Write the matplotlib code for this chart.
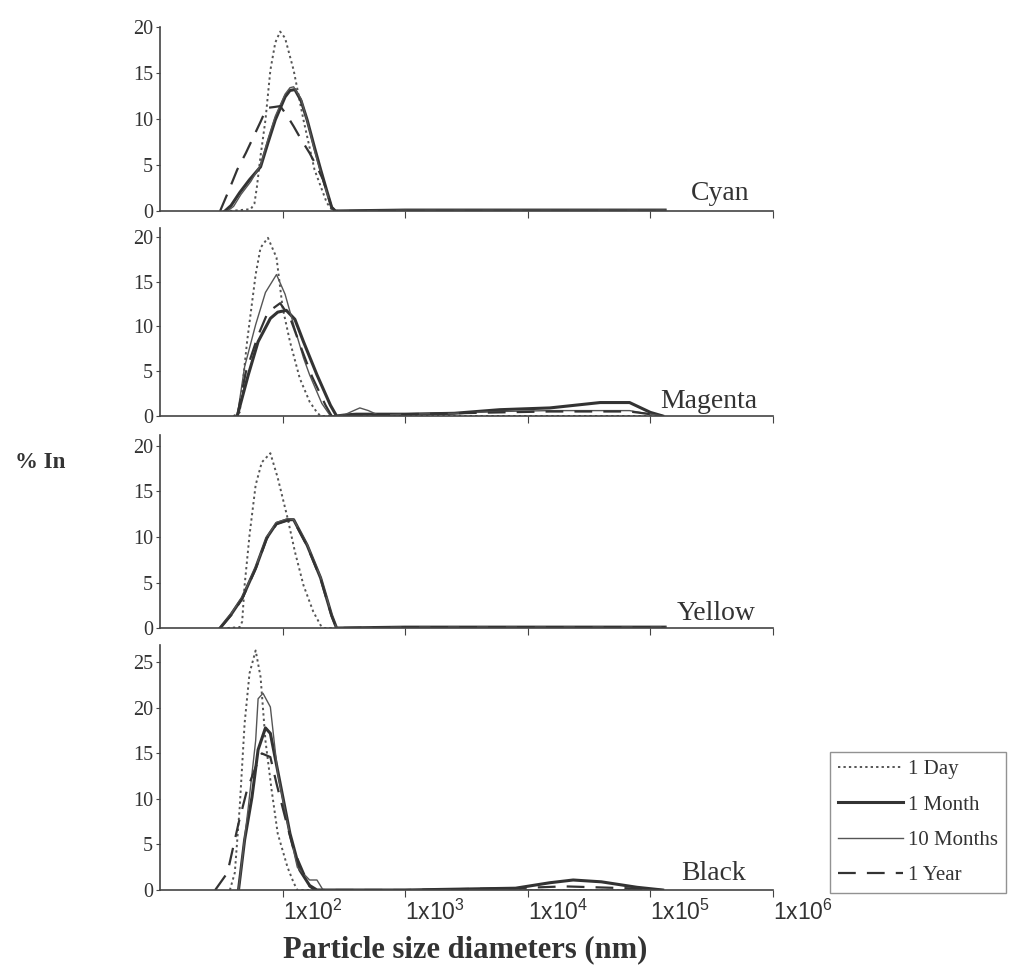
import matplotlib
matplotlib.use('Agg')
import matplotlib.pyplot as plt
import numpy as np
from matplotlib.ticker import FixedLocator, FuncFormatter, NullLocator

plt.rcParams['font.family'] = 'Liberation Serif'
plt.rcParams['mathtext.fontset'] = 'custom'
plt.rcParams['mathtext.rm'] = 'Liberation Sans'
plt.rcParams['mathtext.default'] = 'regular'

# particle size given as log10(d / nm), intensity in %
# --- Cyan
cyan_day_logd = [1.57, 1.74, 1.77, 1.79, 1.82, 1.86, 1.90, 1.94, 1.98, 2.02, 2.09, 2.17, 2.26, 2.36, 2.41, 3.0, 4.0, 5.12]
cyan_day = [0, 0.2, 0.8, 2.6, 6.0, 9.9, 15.3, 18.3, 19.5, 18.8, 15.3, 9.9, 4.5, 0.9, 0, 0, 0, 0]
cyan_month_logd = [1.53, 1.58, 1.65, 1.73, 1.82, 1.88, 1.94, 2.02, 2.06, 2.10, 2.15, 2.20, 2.26, 2.31, 2.36, 2.40, 2.43, 3.0, 4.0, 5.12]
cyan_month = [0, 0.6, 2.0, 3.4, 4.8, 7.4, 9.9, 12.4, 13.1, 13.2, 12.0, 9.9, 6.9, 4.5, 2.2, 0.4, 0, 0.1, 0.1, 0.1]
cyan_10month_logd = [1.55, 1.60, 1.66, 1.74, 1.82, 1.88, 1.94, 2.02, 2.06, 2.09, 2.15, 2.20, 2.26, 2.31, 2.36, 2.40, 2.43, 3.0, 4.0, 5.12]
cyan_10month = [0, 0.5, 1.8, 3.2, 5.0, 7.8, 10.3, 12.7, 13.4, 13.5, 12.2, 9.8, 6.6, 4.2, 2.0, 0.3, 0, 0.1, 0.1, 0.1]
cyan_year_logd = [1.49, 1.56, 1.63, 1.70, 1.76, 1.82, 1.87, 1.93, 1.98, 2.03, 2.09, 2.15, 2.22, 2.28, 2.33, 2.40, 2.43, 3.0, 4.0, 5.12]
cyan_year = [0, 2.2, 4.5, 6.3, 8.0, 9.7, 11.2, 11.3, 11.4, 10.5, 9.2, 7.8, 6.3, 4.8, 3.4, 0.4, 0, 0, 0, 0]

# --- Magenta
mag_day_logd = [1.60, 1.65, 1.71, 1.78, 1.82, 1.88, 1.95, 2.00, 2.06, 2.14, 2.22, 2.28, 2.31, 3.0, 4.0, 5.1]
mag_day = [0, 0.4, 8.3, 15.8, 18.8, 19.9, 17.7, 12.1, 8.3, 4.2, 1.6, 0.4, 0, 0, 0, 0]
mag_month_logd = [1.63, 1.72, 1.80, 1.90, 1.96, 2.03, 2.10, 2.17, 2.28, 2.39, 2.44, 2.50, 2.60, 3.0, 3.4, 3.77, 4.18, 4.59, 4.83, 5.0, 5.1]
mag_month = [0, 4.6, 8.3, 10.9, 11.6, 11.8, 10.8, 8.3, 4.6, 1.2, 0, 0.1, 0.2, 0.2, 0.3, 0.7, 0.9, 1.5, 1.5, 0.4, 0]
mag_10month_logd = [1.63, 1.69, 1.78, 1.86, 1.95, 2.02, 2.09, 2.17, 2.22, 2.32, 2.39, 2.50, 2.58, 2.63, 2.70, 2.78, 3.0, 3.4, 3.77, 4.18, 4.6, 4.83, 5.0, 5.1]
mag_10month = [0, 5.5, 10.2, 13.8, 15.8, 13.6, 10.2, 6.5, 4.6, 1.4, 0, 0.1, 0.6, 0.9, 0.6, 0.1, 0.2, 0.3, 0.5, 0.6, 0.6, 0.6, 0.2, 0]
mag_year_logd = [1.63, 1.70, 1.80, 1.88, 1.98, 2.06, 2.14, 2.24, 2.35, 2.40, 3.0, 3.4, 3.77, 4.18, 4.6, 4.83, 5.0, 5.1]
mag_year = [0, 4.9, 9.0, 11.6, 12.6, 11.0, 8.0, 4.4, 1.2, 0, 0.2, 0.3, 0.4, 0.5, 0.5, 0.5, 0.2, 0]

# --- Yellow
yel_day_logd = [1.55, 1.65, 1.67, 1.69, 1.73, 1.78, 1.83, 1.90, 1.96, 2.04, 2.10, 2.17, 2.25, 2.31, 2.34, 3.0, 4.0, 5.12]
yel_day = [0, 0.1, 0.7, 4.7, 10.2, 15.7, 18.2, 19.2, 16.5, 12.1, 8.4, 4.7, 1.8, 0.3, 0, 0, 0, 0]
yel_month_logd = [1.49, 1.58, 1.67, 1.78, 1.87, 1.95, 2.04, 2.09, 2.20, 2.31, 2.40, 2.44, 3.0, 4.0, 5.12]
yel_month = [0, 1.5, 3.3, 6.6, 9.9, 11.5, 11.9, 11.9, 9.1, 5.5, 1.4, 0, 0.1, 0.1, 0.1]
yel_10month_logd = [1.49, 1.58, 1.67, 1.78, 1.87, 1.95, 2.04, 2.09, 2.20, 2.31, 2.40, 2.44, 3.0, 4.0, 5.12]
yel_10month = [0, 1.6, 3.4, 6.7, 10.0, 11.6, 12.0, 11.9, 9.2, 5.6, 1.5, 0, 0.1, 0.1, 0.1]
yel_year_logd = [1.49, 1.58, 1.67, 1.78, 1.87, 1.95, 2.04, 2.09, 2.20, 2.31, 2.40, 2.44, 3.0, 4.0, 5.12]
yel_year = [0, 1.4, 3.2, 6.5, 9.8, 11.4, 11.8, 11.8, 9.0, 5.4, 1.3, 0, 0.1, 0.1, 0.1]

# --- Black
blk_day_logd = [1.57, 1.61, 1.65, 1.69, 1.73, 1.78, 1.82, 1.86, 1.91, 1.96, 2.04, 2.09, 2.12, 3.0, 4.0, 5.1]
blk_day = [0, 1.9, 9.1, 18.3, 23.8, 26.3, 23.4, 16.4, 11.0, 6.2, 2.5, 0.8, 0, 0, 0, 0]
blk_month_logd = [1.64, 1.69, 1.75, 1.80, 1.86, 1.90, 1.98, 2.06, 2.14, 2.22, 2.28, 3.0, 3.9, 4.18, 4.37, 4.6, 4.89, 5.1]
blk_month = [0, 5.5, 10.2, 15.4, 17.8, 17.2, 11.7, 6.2, 2.2, 0.5, 0, 0, 0.2, 0.8, 1.1, 0.9, 0.3, 0]
blk_10month_logd = [1.64, 1.72, 1.78, 1.80, 1.84, 1.90, 1.96, 2.04, 2.12, 2.22, 2.28, 2.33, 3.0, 4.0, 5.1]
blk_10month = [0, 9.1, 16.4, 21.0, 21.6, 20.1, 12.8, 7.3, 2.5, 1.1, 1.1, 0, 0, 0, 0]
blk_year_logd = [1.45, 1.55, 1.64, 1.71, 1.78, 1.83, 1.90, 1.95, 2.02, 2.09, 2.17, 2.22, 2.26, 3.0, 3.9, 4.3, 4.8, 5.1]
blk_year = [0, 1.9, 7.3, 11.0, 13.5, 15.0, 14.6, 11.7, 8.0, 4.4, 1.9, 0.4, 0, 0, 0.2, 0.4, 0.2, 0]

series_labels = ['1 Day', '1 Month', '10 Months', '1 Year']
panel_names = ['Cyan', 'Magenta', 'Yellow', 'Black']

panels = [
    [(cyan_day_logd, cyan_day), (cyan_month_logd, cyan_month),
     (cyan_10month_logd, cyan_10month), (cyan_year_logd, cyan_year)],
    [(mag_day_logd, mag_day), (mag_month_logd, mag_month),
     (mag_10month_logd, mag_10month), (mag_year_logd, mag_year)],
    [(yel_day_logd, yel_day), (yel_month_logd, yel_month),
     (yel_10month_logd, yel_10month), (yel_year_logd, yel_year)],
    [(blk_day_logd, blk_day), (blk_month_logd, blk_month),
     (blk_10month_logd, blk_10month), (blk_year_logd, blk_year)],
]

styles = [
    dict(color='#555555', lw=1.4, ls=(0, (1.2, 1.6))),
    dict(color='#333333', lw=2.2, ls='-'),
    dict(color='#555555', lw=1.0, ls='-'),
    dict(color='#333333', lw=1.6, ls=(0, (8, 5))),
]

# panel boxes in figure fractions: left, bottom, width, height
boxes = [
    (0.1586, 0.7827, 0.6075, 0.1895),
    (0.1586, 0.5716, 0.6075, 0.1936),
    (0.1586, 0.3532, 0.6075, 0.1988),
    (0.1586, 0.0834, 0.6075, 0.2523),
]
ylims = [20, 21, 21.2, 26.9]
yticks = [[0, 5, 10, 15, 20]] * 3 + [[0, 5, 10, 15, 20, 25]]
name_pos = [(0.962, 0.06), (0.974, 0.043), (0.971, 0.041), (0.956, 0.041)]

fig = plt.figure(figsize=(10.09, 9.71), dpi=100)
handles = []
for i, box in enumerate(boxes):
    ax = fig.add_axes(box)
    for j, (logd, vals) in enumerate(panels[i]):
        line, = ax.plot(10 ** np.array(logd), vals, **styles[j], label=series_labels[j])
        if i == 0:
            handles.append(line)
    ax.set_xscale('log')
    ax.set_xlim(1e1, 1e6)
    ax.set_ylim(0, ylims[i])
    ax.set_yticks(yticks[i])
    ax.xaxis.set_major_locator(FixedLocator([1e2, 1e3, 1e4, 1e5, 1e6]))
    ax.xaxis.set_minor_locator(NullLocator())
    for s in ['top', 'right']:
        ax.spines[s].set_visible(False)
    for s in ['left', 'bottom']:
        ax.spines[s].set_color('#444444')
        ax.spines[s].set_linewidth(1.2)
    ax.tick_params(axis='y', direction='out', length=3, color='#444444',
                   labelsize=14.5, labelcolor='#333333', pad=2)
    ax.tick_params(axis='x', direction='out', length=5, color='#444444')
    if i < 3:
        ax.set_xticklabels([])
    else:
        ax.xaxis.set_major_formatter(
            FuncFormatter(lambda v, p: r'1x10$^{%d}$' % round(np.log10(v))))
        ax.tick_params(axis='x', pad=2)
        for lbl in ax.get_xticklabels():
            lbl.set_fontfamily('Liberation Sans')
            lbl.set_fontsize(16.5)
            lbl.set_color('#333333')
            lbl.set_ha('left')
    ax.text(name_pos[i][0], name_pos[i][1], panel_names[i], transform=ax.transAxes,
            ha='right', va='baseline', fontsize=20, color='#333333')

fig.text(0.015, 0.524, '% In', fontsize=16.5, fontweight='bold', color='#333333',
         ha='left', va='center')
fig.text(0.461, 0.007, 'Particle size diameters (nm)', fontsize=22,
         fontweight='bold', color='#333333', ha='center', va='bottom')

leg = fig.legend(handles=handles, loc='lower left', bbox_to_anchor=(0.8226, 0.0803),
                 fontsize=15, frameon=True, fancybox=False, handlelength=3.1,
                 handletextpad=0.25, borderpad=0.38, labelspacing=0.75,
                 borderaxespad=0)
leg.get_frame().set_edgecolor('#777777')
leg.get_frame().set_linewidth(1.0)
for t in leg.get_texts():
    t.set_color('#333333')

fig.savefig('out.png', dpi=100)
